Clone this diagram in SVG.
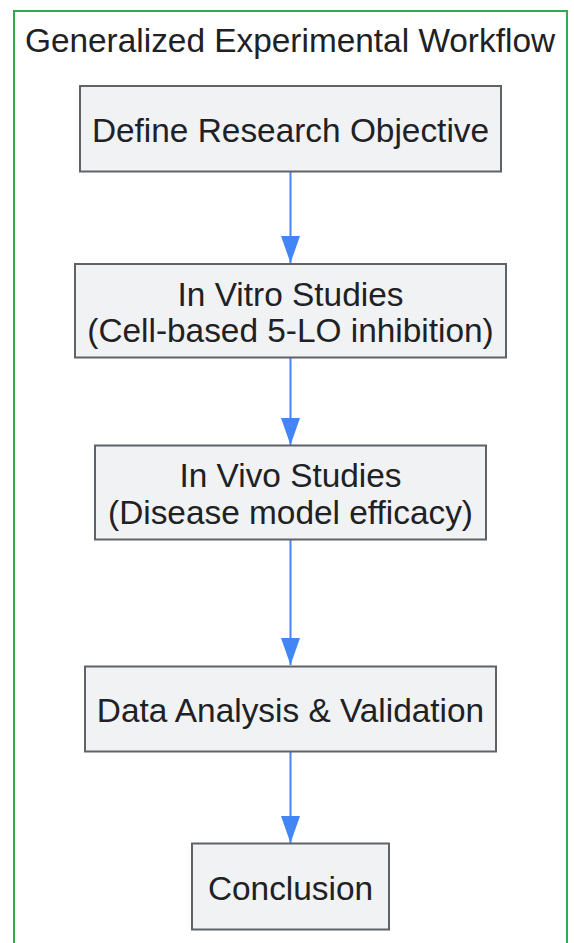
<svg xmlns="http://www.w3.org/2000/svg" width="574" height="943" viewBox="0 0 574 943">
<style>
.node rect{fill:#f1f2f4;stroke:#5f6368;stroke-width:2}
.node text,.title{font-family:"Liberation Sans",Arial,sans-serif;font-size:33.4px;fill:#202124;text-anchor:middle}
.edge{stroke:#4285f4;stroke-width:2;fill:none}
</style>
<defs>
<marker id="ah" viewBox="0 0 27 19" refX="27" refY="9.5" markerWidth="27" markerHeight="19" markerUnits="userSpaceOnUse" orient="auto">
<path d="M0,0 L27,9.5 L0,19 Z" fill="#4285f4"/>
</marker>
</defs>
<rect x="14" y="11" width="553" height="950" fill="#ffffff" stroke="#34a853" stroke-width="2"/>
<text class="title" x="290" y="52">Generalized Experimental Workflow</text>
<g id="connectors">
<line class="edge" x1="290.5" y1="172" x2="290.5" y2="263" marker-end="url(#ah)"/>
<line class="edge" x1="290.5" y1="358" x2="290.5" y2="445" marker-end="url(#ah)"/>
<line class="edge" x1="290.5" y1="540" x2="290.5" y2="665" marker-end="url(#ah)"/>
<line class="edge" x1="290.5" y1="752" x2="290.5" y2="843" marker-end="url(#ah)"/>
</g>
<g id="n1" class="node"><rect x="80" y="86" width="421" height="85.5"/><text x="290.5" y="142">Define Research Objective</text></g>
<g id="n2" class="node"><rect x="75" y="264" width="431" height="93.5"/><text x="290.5" y="305.5">In Vitro Studies</text><text x="290.5" y="341.5">(Cell-based 5-LO inhibition)</text></g>
<g id="n3" class="node"><rect x="95" y="445.5" width="391" height="94"/><text x="290.5" y="487">In Vivo Studies</text><text x="290.5" y="523.5">(Disease model efficacy)</text></g>
<g id="n4" class="node"><rect x="85" y="666.5" width="411" height="85"/><text x="290.5" y="722">Data Analysis &amp; Validation</text></g>
<g id="n5" class="node"><rect x="192" y="843.5" width="197" height="86"/><text x="290.5" y="900">Conclusion</text></g>
</svg>
